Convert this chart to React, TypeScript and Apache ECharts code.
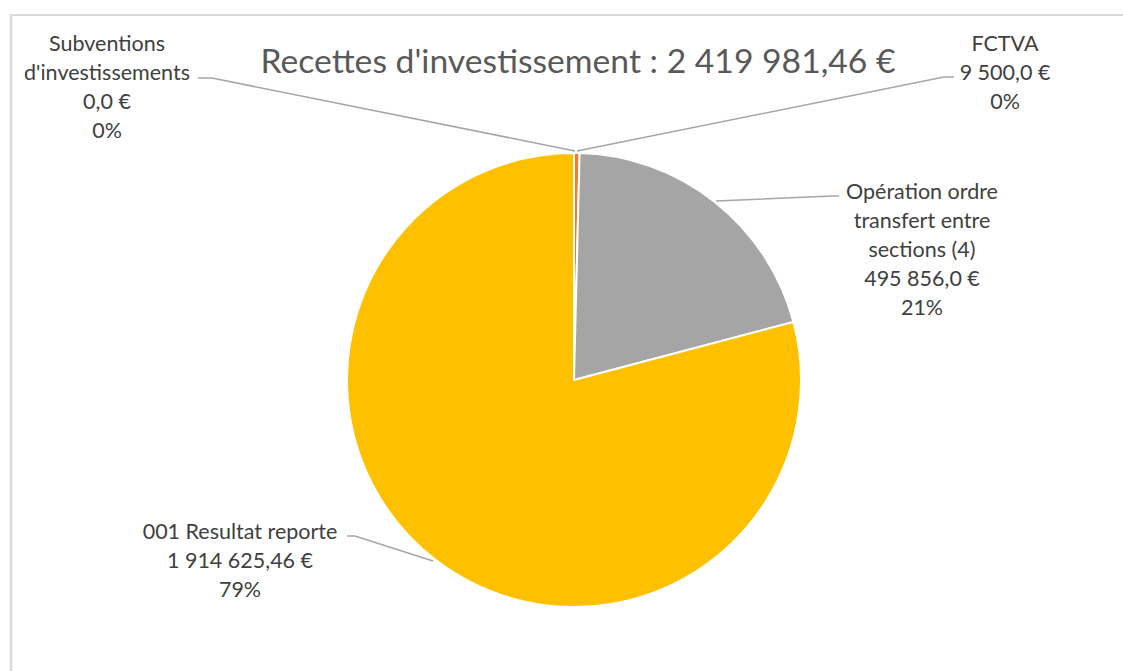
import React, { useEffect, useRef } from "react";
import * as echarts from "echarts";

const TITLE = "Recettes d'investissement : 2 419 981,46 €";
const categories = [
  "Subventions\nd'investissements",
  "FCTVA",
  "Opération ordre\ntransfert entre\nsections (4)",
  "001 Resultat reporte",
];
const values = [0, 9500, 495856, 1914625.46];
const colors = ["#4472C4", "#ED7D31", "#A5A5A5", "#FFC000"];

const LABEL_POS = [
  { x: 107, y: 86, line: [[575, 151], [212, 78], [198, 78]] },
  { x: 1005, y: 72, line: [[577, 151], [944, 77], [954, 77]] },
  { x: 922, y: 249, line: [[716, 201], [832, 196], [839, 196]] },
  { x: 240, y: 560, line: [[433, 561], [355, 536], [347, 536]] },
];

function fmtEuro(v: number): string {
  let s = v.toFixed(2);
  if (s.endsWith("0")) s = s.slice(0, -1);
  const [intPart, dec] = s.split(".");
  const grouped = intPart.replace(/\B(?=(\d{3})+(?!\d))/g, " ");
  return grouped + "," + dec + " €";
}

export default function App() {
  const ref = useRef<HTMLDivElement>(null);
  useEffect(() => {
    if (!ref.current) return;
    const chart = echarts.init(ref.current, null, { renderer: "svg" });
    chart.setOption({
      animation: false,
      backgroundColor: "#ffffff",
      title: {
        text: TITLE,
        left: 573,
        top: 38,
        textAlign: "center",
        textStyle: {
          fontFamily: "Lato",
          fontSize: 33.7,
          fontWeight: "normal",
          color: "#595959",
        },
      },
      graphic: [
        {
          type: "line",
          shape: { x1: 10, y1: 15, x2: 1123, y2: 15 },
          style: { stroke: "#d9d9d9", lineWidth: 2 },
        },
        {
          type: "line",
          shape: { x1: 11, y1: 14, x2: 11, y2: 671 },
          style: { stroke: "#d9d9d9", lineWidth: 2.5 },
        },
      ],
      series: [
        {
          type: "pie",
          center: [574, 380],
          radius: 227,
          startAngle: 90,
          clockwise: true,
          percentPrecision: 0,
          avoidLabelOverlap: false,
          itemStyle: { borderColor: "#ffffff", borderWidth: 2 },
          label: {
            show: true,
            position: "outside",
            fontFamily: "Lato",
            fontSize: 21.5,
            lineHeight: 29,
            color: "#404040",
            align: "center",
            formatter: (p: any) =>
              `${p.name}\n${fmtEuro(p.value)}\n${Math.round(p.percent)}%`,
          },
          labelLine: {
            show: true,
            lineStyle: { color: "#a6a6a6", width: 1.6 },
          },
          labelLayout: (params: any) => {
            const p = LABEL_POS[params.dataIndex];
            return {
              x: p.x,
              y: p.y,
              align: "center",
              verticalAlign: "middle",
              labelLinePoints: p.line,
            };
          },
          emphasis: { disabled: true },
          data: categories.map((name, i) => ({
            name,
            value: values[i],
            itemStyle: { color: colors[i] },
          })),
        },
      ],
    });
    return () => chart.dispose();
  }, []);
  return (
    <div
      ref={ref}
      style={{ position: "absolute", left: 0, top: 0, width: 1123, height: 671 }}
    />
  );
}
